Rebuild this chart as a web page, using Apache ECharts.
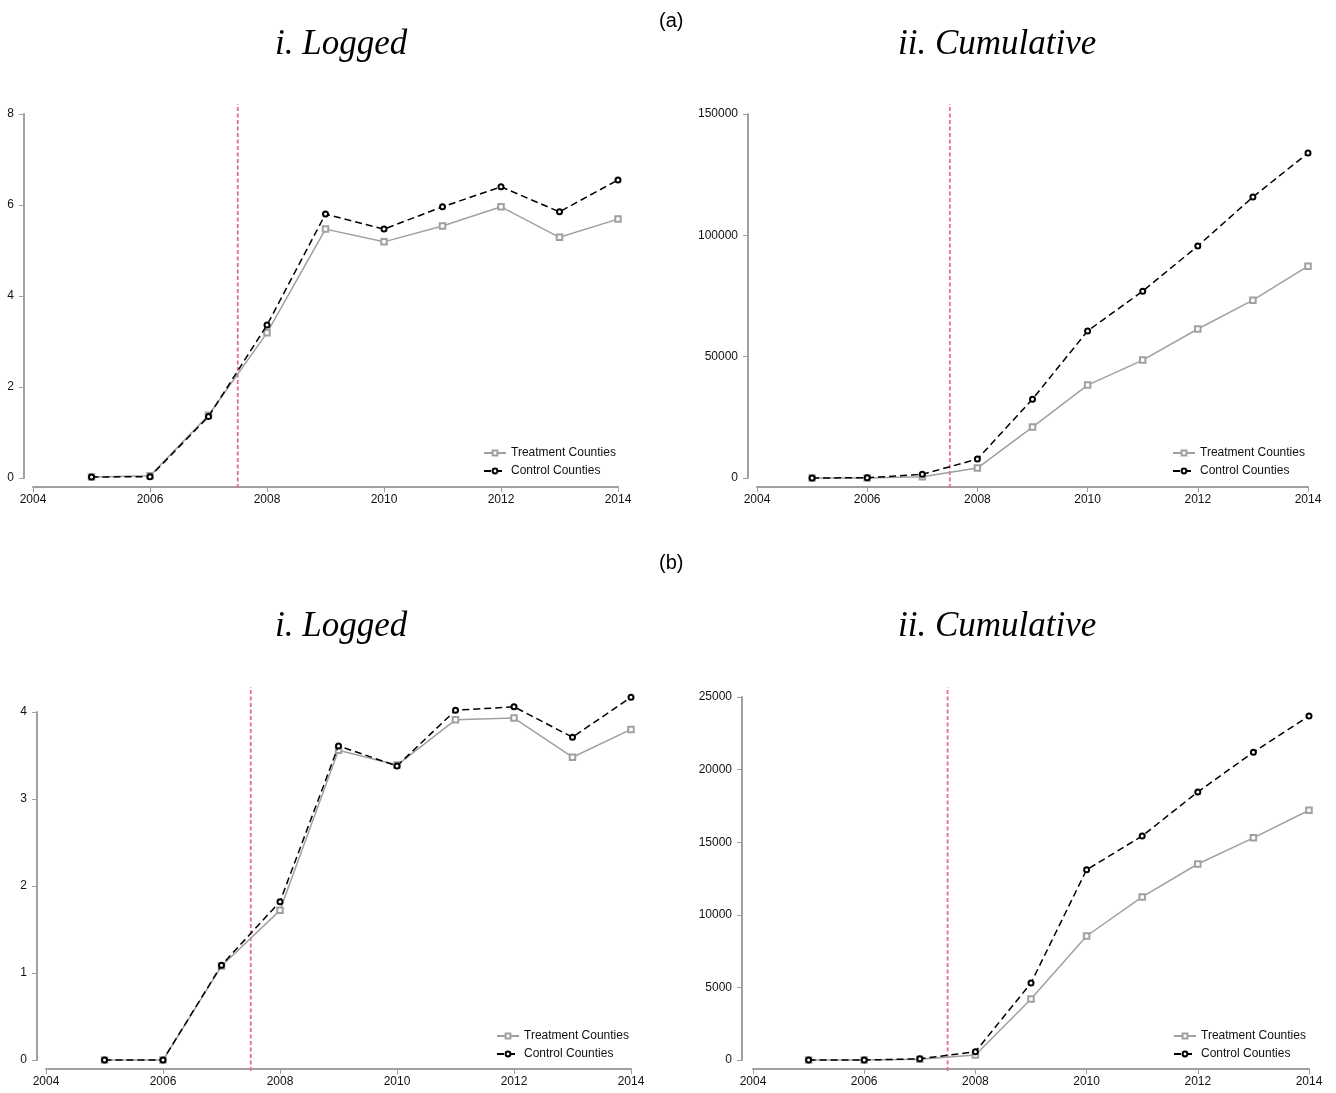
<!DOCTYPE html>
<html><head><meta charset="utf-8">
<script src="https://cdn.jsdelivr.net/npm/echarts@6/dist/echarts.min.js"></script>
<style>html,body{margin:0;padding:0;background:#fff}#c{width:1336px;height:1093px}</style>
</head><body><div id="c"></div>
<script>
const years = [2005,2006,2007,2008,2009,2010,2011,2012,2013,2014];
const xTicks = [2004,2006,2008,2010,2012,2014];
const policyYear = [2007.5];
// (a) logged
const aLogTreat = [0.02,0.05,1.38,3.19,5.47,5.19,5.54,5.96,5.29,5.69];
const aLogCtrl  = [0.02,0.03,1.35,3.36,5.80,5.47,5.96,6.40,5.85,6.55];
// (a) cumulative
const aCumTreat = [0,0,500,4100,21000,38300,48600,61400,73300,87300];
const aCumCtrl  = [0,100,1500,7800,32500,60600,77000,95600,115800,133900];
// (b) logged
const bLogTreat = [0,0,1.08,1.72,3.56,3.39,3.91,3.93,3.48,3.80];
const bLogCtrl  = [0,0,1.09,1.82,3.61,3.38,4.02,4.06,3.71,4.17];
// (b) cumulative
const bCumTreat = [0,0,50,350,4200,8540,11230,13500,15300,17200];
const bCumCtrl  = [0,0,80,570,5300,13100,15430,18460,21200,23700];

const yMax = [8,150000,4,25000];
const yInt = [2,50000,1,5000];

const panels = [
  {left:33,  right:1336-618,  top:114, bottom:1093-478, yOff:9,  leg:[478,442]},
  {left:757, right:1336-1308, top:114, bottom:1093-478, yOff:9,  leg:[1167,442]},
  {left:46,  right:1336-631,  top:712, bottom:1093-1060,yOff:9,  leg:[491,1025]},
  {left:753, right:1336-1309, top:697, bottom:1093-1060,yOff:11, leg:[1168,1025]}
];
const vTop = [104,104,687,687], vBot = [488,488,1071,1071];
const treat = [aLogTreat,aCumTreat,bLogTreat,bCumTreat];
const ctrl = [aLogCtrl,aCumCtrl,bLogCtrl,bCumCtrl];

const axisGray = '#a0a0a0';
const grid=[], xAxis=[], yAxis=[], series=[], legend=[];
const plain = v => String(v);
panels.forEach((p,i)=>{
  grid.push({left:p.left,right:p.right,top:p.top,bottom:p.bottom,containLabel:false});
  xAxis.push({type:'value',gridIndex:i,min:2004,max:2014,interval:2,offset:9,
    axisLine:{show:true,onZero:false,lineStyle:{color:axisGray,width:2}},
    axisTick:{show:true,length:5,lineStyle:{color:axisGray,width:1}},
    axisLabel:{color:'#111',fontSize:12,fontFamily:'Liberation Sans, Arial',margin:7,formatter:plain},
    splitLine:{show:false}});
  yAxis.push({type:'value',gridIndex:i,min:0,max:yMax[i],interval:yInt[i],offset:p.yOff,
    axisLine:{show:true,onZero:false,lineStyle:{color:axisGray,width:2}},
    axisTick:{show:true,length:5,lineStyle:{color:axisGray,width:1}},
    axisLabel:{color:'#111',fontSize:12,fontFamily:'Liberation Sans, Arial',margin:10,formatter:plain},
    splitLine:{show:false}});
  series.push({name:'Treatment Counties',type:'line',xAxisIndex:i,yAxisIndex:i,clip:false,
    data:years.map((y,k)=>[y,treat[i][k]]),symbol:'emptyRect',symbolSize:5.5,
    lineStyle:{color:'#a0a0a0',width:1.5},itemStyle:{color:'#a0a0a0',borderWidth:1.2},z:3});
  series.push({name:'Control Counties',type:'line',xAxisIndex:i,yAxisIndex:i,clip:false,
    data:years.map((y,k)=>[y,ctrl[i][k]]),symbol:'emptyCircle',symbolSize:5,
    lineStyle:{color:'#000',width:1.5,type:[7,4]},itemStyle:{color:'#000',borderWidth:1.2},z:4});
  legend.push({orient:'vertical',left:p.leg[0],top:p.leg[1],itemWidth:22,itemHeight:6,itemGap:6,
    data:['Treatment Counties','Control Counties'],
    textStyle:{fontSize:12,color:'#111',fontFamily:'Liberation Sans, Arial'}});
});
// overlay grids for the policy line
panels.forEach((p,i)=>{
  const gi = 4+i;
  grid.push({left:p.left,right:p.right,top:vTop[i],bottom:1093-vBot[i]});
  xAxis.push({type:'value',gridIndex:gi,min:2004,max:2014,show:false});
  yAxis.push({type:'value',gridIndex:gi,min:0,max:1,show:false});
  series.push({type:'line',xAxisIndex:gi,yAxisIndex:gi,symbol:'none',silent:true,
    data:[[policyYear[0],0],[policyYear[0],1]],
    lineStyle:{color:'#e56aa2',width:1.8,type:[4,2.5]},z:2});
});

const titleFont = {fontFamily:'Liberation Serif, Times New Roman',fontStyle:'italic',fontSize:35,color:'#000',fontWeight:'normal'};
const subFont = {fontFamily:'Liberation Sans, Arial',fontSize:20,color:'#000',fontWeight:'normal'};
const title = [
  {text:'(a)',left:659,top:11,textStyle:subFont},
  {text:'i. Logged',left:275,top:27,textStyle:titleFont},
  {text:'ii. Cumulative',left:898,top:27,textStyle:titleFont},
  {text:'(b)',left:659,top:553,textStyle:subFont},
  {text:'i. Logged',left:275,top:609,textStyle:titleFont},
  {text:'ii. Cumulative',left:898,top:609,textStyle:titleFont}
].map(t=>Object.assign({padding:0},t));

const chart = echarts.init(document.getElementById('c'),null,{renderer:'canvas'});
chart.setOption({animation:false,backgroundColor:'#fff',title,grid,xAxis,yAxis,series,legend});
</script></body></html>
